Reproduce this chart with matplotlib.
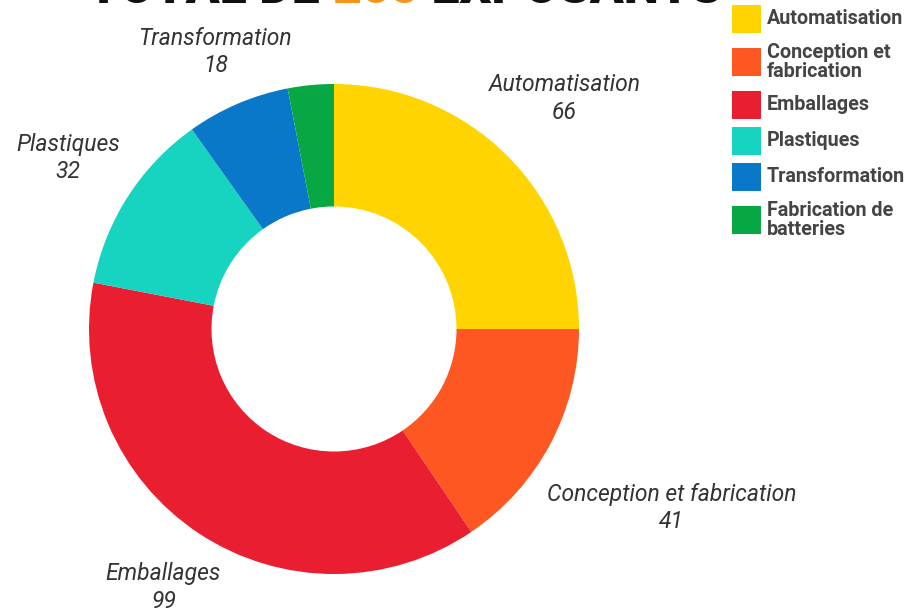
"""Donut chart: exhibitors by sector."""
import textwrap

import matplotlib

matplotlib.use("Agg")
import matplotlib.pyplot as plt  # noqa: E402
import numpy as np  # noqa: E402
from matplotlib.patches import Rectangle  # noqa: E402

sectors = [
    "Automatisation",
    "Conception et fabrication",
    "Emballages",
    "Plastiques",
    "Transformation",
    "Fabrication de batteries",
]
counts = [66, 41, 99, 32, 18, 8]
show_label = [True, True, True, True, True, False]
total_exposants = 265
colors = ["#FFD400", "#FF5722", "#E91E30", "#17D4C0", "#0A78C8", "#07A843"]
label_dist = [1.33, 1.56, 1.265, 1.29, 1.23, 1.2]

plt.rcParams["font.family"] = ["Roboto", "DejaVu Sans"]

W, H = 910, 614
fig = plt.figure(figsize=(W / 100, H / 100), dpi=100)
cx, cy, r = 334, 329, 245
ax = fig.add_axes([(cx - r) / W, (H - cy - r) / H, 2 * r / W, 2 * r / H])

wedges, _ = ax.pie(
    counts,
    colors=colors,
    startangle=90,
    counterclock=False,
    radius=1,
    wedgeprops=dict(width=0.5, linewidth=0),
)
ax.set_xlim(-1, 1)
ax.set_ylim(-1, 1)
ax.set_aspect("equal")
ax.axis("off")

total = sum(counts)
cum = np.cumsum([0] + counts[:-1])
for name, v, c0, d, show in zip(sectors, counts, cum, label_dist, show_label):
    if not show:
        continue
    ang = 2 * np.pi * (c0 + v / 2) / total
    x, y = d * np.sin(ang), d * np.cos(ang)
    ax.text(x, y, f"{name}\n{v}", ha="center", va="center", fontsize=16.5,
            style="italic", color="#333333", linespacing=1.25, clip_on=False)

# legend drawn by hand: squares + bold labels, stacked from the top
labels = [textwrap.fill(s, 14) for s in sectors]
y = 19
prev_lines = 1
for i, (lab, col) in enumerate(zip(labels, colors)):
    n = lab.count("\n") + 1
    if i:
        y += 36 + 7 * (prev_lines - 1) + 7 * (n - 1)
    fig.add_artist(Rectangle((732 / W, 1 - (y + 14) / H), 29 / W, 28 / H,
                             transform=fig.transFigure, facecolor=col, edgecolor="none"))
    fig.text(767 / W, 1 - y / H, lab, ha="left", va="center", fontsize=14.2,
             fontweight="bold", color="#444444", linespacing=0.95)
    prev_lines = n

# title, partly cut at top of the image
parts = [("TOTAL DE ", "#111111"), (str(total_exposants), "#F7941D"), (" EXPOSANTS", "#111111")]
fig.canvas.draw()
renderer = fig.canvas.get_renderer()
x0 = 88 / W
for txt, col in parts:
    t = fig.text(x0, 1 - 3 / H, txt, fontsize=36, fontweight="heavy", color=col,
                 ha="left", va="baseline")
    bb = t.get_window_extent(renderer)
    x0 += bb.width / W

fig.savefig("out.png", dpi=100)
